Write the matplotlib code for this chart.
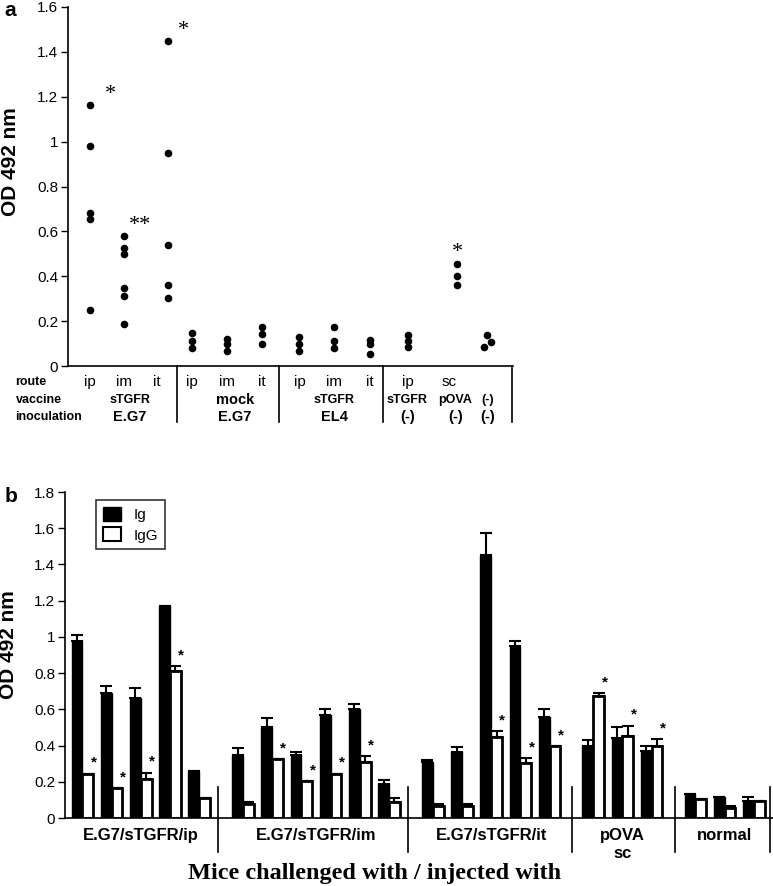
import numpy as np
import matplotlib
matplotlib.use("Agg")
import matplotlib.pyplot as plt
from matplotlib.patches import Patch
from matplotlib.ticker import FuncFormatter, MultipleLocator

plt.rcParams['font.family'] = ['Liberation Sans', 'DejaVu Sans']

# ---- panel a: OD 492 nm of individual mice -------------------------------
a_values = [
    [1.163, 0.979, 0.684, 0.653, 0.249],          # E.G7 / sTGFR / ip
    [0.580, 0.527, 0.500, 0.348, 0.312, 0.185],   # E.G7 / sTGFR / im
    [1.449, 0.948, 0.541, 0.363, 0.304],          # E.G7 / sTGFR / it
    [0.148, 0.112, 0.081],                        # E.G7 / mock / ip
    [0.120, 0.100, 0.068],                        # E.G7 / mock / im
    [0.175, 0.141, 0.100],                        # E.G7 / mock / it
    [0.130, 0.098, 0.067],                        # EL4 / sTGFR / ip
    [0.175, 0.111, 0.081],                        # EL4 / sTGFR / im
    [0.118, 0.096, 0.052],                        # EL4 / sTGFR / it
    [0.138, 0.112, 0.086],                        # (-) / sTGFR / ip
    [0.456, 0.403, 0.363],                        # (-) / pOVA / sc
    [0.138, 0.106, 0.086],                        # (-) / (-)
]
a_stars = ['*', '**', '*', '', '', '', '', '', '', '', '*', '']
route_labels = ['ip', 'im', 'it', 'ip', 'im', 'it', 'ip', 'im', 'it', 'ip', 'sc']
vaccine_labels = ['sTGFR', 'mock', 'sTGFR', 'sTGFR', 'pOVA', '(-)']
inoc_labels = ['E.G7', 'E.G7', 'EL4', '(-)', '(-)', '(-)']

# ---- panel b: group means, Ig and IgG -------------------------------------
b_groups = ['E.G7/sTGFR/ip', 'E.G7/sTGFR/im', 'E.G7/sTGFR/it', 'pOVA\nsc', 'normal']
b_sizes = [5, 6, 5, 3, 3]
ig_mean = [0.98, 0.69, 0.665, 1.17, 0.26,
           0.35, 0.505, 0.35, 0.57, 0.60, 0.19,
           0.31, 0.365, 1.45, 0.95, 0.56,
           0.40, 0.44, 0.37,
           0.13, 0.115, 0.095]
ig_err = [0.03, 0.04, 0.055, 0.0, 0.0,
          0.035, 0.045, 0.015, 0.03, 0.03, 0.02,
          0.01, 0.025, 0.125, 0.03, 0.04,
          0.03, 0.065, 0.025,
          0.0, 0.0, 0.02]
igg_mean = [0.245, 0.165, 0.215, 0.81, 0.11,
            0.08, 0.325, 0.205, 0.245, 0.31, 0.09,
            0.065, 0.065, 0.445, 0.305, 0.395,
            0.675, 0.455, 0.40,
            0.105, 0.055, 0.095]
igg_err = [0.0, 0.0, 0.035, 0.03, 0.0,
           0.01, 0.0, 0.0, 0.0, 0.03, 0.02,
           0.015, 0.01, 0.035, 0.025, 0.0,
           0.015, 0.055, 0.035,
           0.0, 0.012, 0.0]
igg_star = [1, 1, 1, 1, 0,
            0, 1, 1, 1, 1, 0,
            0, 0, 1, 1, 1,
            1, 1, 1,
            0, 0, 0]

fig = plt.figure(figsize=(7.73, 8.86), dpi=100)
fmt = FuncFormatter(lambda v, p: '%g' % round(v, 2))

# ======================= panel a ==========================================
ax = fig.add_axes([68 / 773, 1 - 366 / 886, 445 / 773, 359 / 886])
col_x = [0.63, 1.6, 2.86, 3.54, 4.54, 5.54, 6.6, 7.6, 8.63, 9.71, 11.11, 11.97]
jitter = {11: [0.0, 0.1, -0.1]}
for i, vals in enumerate(a_values):
    off = jitter.get(i, [0.0] * len(vals))
    ax.scatter([col_x[i] + o for o in off], vals, s=20, color='black', zorder=3,
               clip_on=False)

star_dx = [0.57, 0.46, 0.43, 0, 0, 0, 0, 0, 0, 0, 0.0, 0]
for i, s in enumerate(a_stars):
    if s:
        ax.text(col_x[i] + star_dx[i], max(a_values[i]) + 0.048, s, ha='center',
                va='center', fontsize=16, family='Liberation Serif')

ax.set_xlim(0, 12.71)
ax.set_ylim(0, 1.6)
ax.yaxis.set_major_locator(MultipleLocator(0.2))
ax.yaxis.set_major_formatter(fmt)
ax.tick_params(axis='y', labelsize=11, length=5, width=1, pad=2)
ax.tick_params(axis='x', length=0, labelbottom=False)
for sp in ['top', 'right']:
    ax.spines[sp].set_visible(False)
for sp in ['left', 'bottom']:
    ax.spines[sp].set_linewidth(1.2)

tr = ax.get_xaxis_transform()
route_x = [0.63, 1.6, 2.54, 3.54, 4.54, 5.54, 6.63, 7.6, 8.63, 9.71, 10.89]
for x, lab in zip(route_x, route_labels):
    ax.text(x, -0.045, lab, transform=tr, ha='center', va='center', fontsize=11)
grp_x = [1.77, 4.77, 7.6, 9.69, 11.06, 11.99]
for x, lab in zip(grp_x, vaccine_labels):
    ax.text(x, -0.095, lab, transform=tr, ha='center', va='center',
            fontsize=10.5 if lab == 'mock' else 9, fontweight='bold')
for x, lab in zip(grp_x, inoc_labels):
    ax.text(x, -0.142, lab, transform=tr, ha='center', va='center',
            fontsize=10.5, fontweight='bold')
for y, lab in zip([-0.045, -0.095, -0.142], ['route', 'vaccine', 'inoculation']):
    ax.text(-0.118, y, lab, transform=ax.transAxes, ha='left', va='center',
            fontsize=9, fontweight='bold')
for x in [3.11, 6.03, 9.0, 12.69]:
    ax.plot([x, x], [0, -0.156], transform=tr, color='black', lw=1.2, clip_on=False)

fig.text(11 / 773, 1 - 162 / 886, 'OD 492 nm', rotation=90, ha='center',
         va='center', fontsize=15, fontweight='bold')
fig.text(10 / 773, 1 - 10 / 886, 'a', ha='center', va='center', fontsize=15,
         fontweight='bold')

# ======================= panel b ==========================================
bx = fig.add_axes([65 / 773, 1 - 818 / 886, 708 / 773, 326 / 886])
starts = [0, 5.5, 12, 17.5, 21]
xs = np.concatenate([s + np.arange(n) for s, n in zip(starts, b_sizes)])
w = 0.37
ig_m = np.array(ig_mean)
igg_m = np.array(igg_mean)

bx.bar(xs, ig_m, w, color='black', edgecolor='black', lw=1, zorder=2)
bx.bar(xs + w, igg_m, w, color='white', edgecolor='black', lw=2, zorder=2)
bx.errorbar(xs, ig_m, yerr=[np.zeros(len(xs)), ig_err], fmt='none', ecolor='black',
            elinewidth=1.5, capsize=4, capthick=1.5, zorder=3)
bx.errorbar(xs + w, igg_m, yerr=[np.zeros(len(xs)), igg_err], fmt='none',
            ecolor='black', elinewidth=1.5, capsize=4, capthick=1.5, zorder=3)
for x, m, e, s in zip(xs, igg_m, igg_err, igg_star):
    if s:
        bx.text(x + w + 0.2, m + e + 0.06, '*', ha='center', va='center',
                fontsize=11, fontweight='bold')

bx.set_xlim(-0.41, 23.84)
bx.set_ylim(0, 1.8)
bx.yaxis.set_major_locator(MultipleLocator(0.2))
bx.yaxis.set_major_formatter(fmt)
bx.tick_params(axis='y', labelsize=11, length=5, width=1, pad=2)
bx.tick_params(axis='x', length=0, labelbottom=False)
for sp in ['top', 'right']:
    bx.spines[sp].set_visible(False)
for sp in ['left', 'bottom']:
    bx.spines[sp].set_linewidth(1.2)

trb = bx.get_xaxis_transform()
for x in [4.83, 11.34, 16.95, 20.48, 23.73]:
    bx.plot([x, x], [0.095, -0.104], transform=trb, color='black', lw=1.2,
            clip_on=False)
for s, n, lab in zip(starts, b_sizes, b_groups):
    cx = s + (n - 1) / 2 + w / 2
    bx.text(cx, -0.03, lab, transform=trb, ha='center', va='top', fontsize=12,
            fontweight='bold', linespacing=1.25)

leg = bx.legend(handles=[Patch(facecolor='black', edgecolor='black', label='Ig'),
                         Patch(facecolor='white', edgecolor='black', lw=1.5, label='IgG')],
                loc='upper left', bbox_to_anchor=(0.044, 0.975), fontsize=11,
                frameon=True, fancybox=False, handlelength=1.2, handleheight=1.0,
                borderpad=0.45, labelspacing=0.35, borderaxespad=0)
leg.get_frame().set_edgecolor('black')
leg.get_frame().set_linewidth(1.2)

fig.text(9 / 773, 1 - 645 / 886, 'OD 492 nm', rotation=90, ha='center',
         va='center', fontsize=15, fontweight='bold')
fig.text(11 / 773, 1 - 496 / 886, 'b', ha='center', va='center', fontsize=15,
         fontweight='bold')
fig.text(375 / 773, 1 - 873 / 886, 'Mice challenged with / injected with',
         ha='center', va='center', fontsize=17.5, fontweight='bold',
         family='Liberation Serif')

fig.savefig('out.png', dpi=100)
